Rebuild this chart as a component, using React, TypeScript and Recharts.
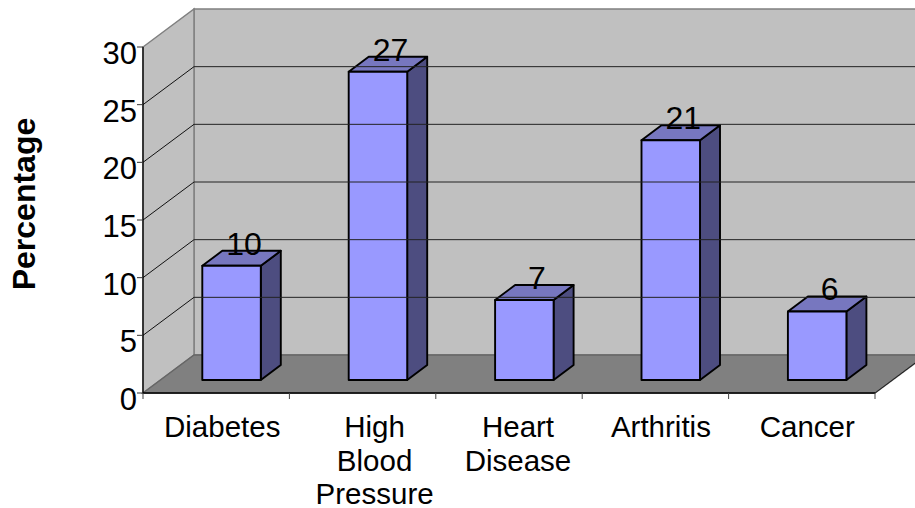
import { BarChart, Bar, XAxis, YAxis, ReferenceArea, ReferenceLine, LabelList } from 'recharts';

const categories = ['Diabetes', 'High Blood Pressure', 'Heart Disease', 'Arthritis', 'Cancer'];
const percentages = [10, 27, 7, 21, 6];
const yTicks = [0, 5, 10, 15, 20, 25, 30];
const gridValues = [5, 10, 15, 20, 25];

const data = categories.map((name, i) => ({ name, value: percentages[i] }));

const W = 915;
const H = 508;
const LEFT = 143;
const TOP = 47;
const RIGHT = 40;
const BOTTOM = 115;
const BAND = (W - LEFT - RIGHT) / categories.length;
// depth of the fake 3d box
const WALL_DX = 51;
const WALL_DY = -38;
const BAR_DX = 20;
const BAR_DY = -15;
const BAR_SHIFT = 15.3;
const BAR_LIFT = 13;
const BAR_K = 0.99;
// category labels are not quite centred on their bands in the original
const labelNudge = [6, 12, 9, 5.5, 5.5];

const FONT = '"Liberation Sans", Arial, sans-serif';

function Walls(props: any) {
  const { y, height } = props;
  const x0 = LEFT;
  const x1 = W - RIGHT;
  const yTop = y;
  const yBot = y + height;
  const pts = (a: number[][]) => a.map(p => p.join(',')).join(' ');
  return (
    <g>
      <polygon points={pts([[x0 + WALL_DX, yTop + WALL_DY], [x1 + WALL_DX, yTop + WALL_DY], [x1 + WALL_DX, yBot + WALL_DY], [x0 + WALL_DX, yBot + WALL_DY]])} fill="#c0c0c0" stroke="#808080" strokeWidth={1.5} />
      <polygon points={pts([[x0, yTop], [x0 + WALL_DX, yTop + WALL_DY], [x0 + WALL_DX, yBot + WALL_DY], [x0, yBot]])} fill="#c0c0c0" stroke="#808080" strokeWidth={1.5} />
      <polygon points={pts([[x0, yBot], [x0 + WALL_DX, yBot + WALL_DY], [x1 + WALL_DX, yBot + WALL_DY], [x1, yBot]])} fill="#808080" stroke="#666666" strokeWidth={1.5} />
      <line x1={x1} y1={yBot} x2={x1 + WALL_DX} y2={yBot + WALL_DY} stroke="#222222" />
    </g>
  );
}

function GridLine(props: any) {
  const { y1 } = props;
  const x1 = LEFT;
  const x2 = W - RIGHT;
  return (
    <g>
      <line x1={x1} y1={y1} x2={x1 + WALL_DX} y2={y1 + WALL_DY} stroke="#111111" />
      <line x1={x1 + WALL_DX} y1={y1 + WALL_DY} x2={x2 + WALL_DX} y2={y1 + WALL_DY} stroke="#222222" />
    </g>
  );
}

function Box3D(props: any) {
  const { x, y, width, height } = props;
  const left = x + BAR_SHIFT;
  const right = left + width;
  const base = y + height - BAR_LIFT;
  const top = base - height * BAR_K;
  const pts = (a: number[][]) => a.map(p => p.join(',')).join(' ');
  return (
    <g stroke="#000000" strokeWidth={1.9} strokeLinejoin="round">
      <polygon points={pts([[right, top], [right + BAR_DX, top + BAR_DY], [right + BAR_DX, base + BAR_DY], [right, base]])} fill="#4d4d80" />
      <polygon points={pts([[left, top], [left + BAR_DX, top + BAR_DY], [right + BAR_DX, top + BAR_DY], [right, top]])} fill="#7777bf" />
      <rect x={left} y={top} width={width} height={base - top} fill="#9999ff" />
    </g>
  );
}

function ValueLabel(props: any) {
  const { x, y, width, height, value } = props;
  const base = y + height - BAR_LIFT;
  const top = base - height * BAR_K;
  return (
    <text x={x + width / 2 + BAR_SHIFT + 12.5} y={top - 11} textAnchor="middle" fontSize={32} fontFamily={FONT} fill="#000000">
      {value}
    </text>
  );
}

function ValueTick(props: any) {
  const { x, y, payload } = props;
  return (
    <text x={x} y={y + 17} textAnchor="end" fontSize={31} fontFamily={FONT} fill="#000000">
      {payload.value}
    </text>
  );
}

function CategoryTick(props: any) {
  const { x, y, payload, index } = props;
  const lines = String(payload.value).split(' ');
  const labelX = x + labelNudge[index];
  return (
    <g>
      <line x1={x - BAND / 2} y1={y - 8} x2={x - BAND / 2} y2={y - 2} stroke="#444444" />
      {index === categories.length - 1 && (
        <line x1={x + BAND / 2} y1={y - 8} x2={x + BAND / 2} y2={y - 2} stroke="#444444" />
      )}
      <text textAnchor="middle" fontSize={29.5} fontFamily={FONT} fill="#000000">
        {lines.map((l, i) => (
          <tspan key={l} x={labelX} y={y + 36 + i * 33.5}>
            {l}
          </tspan>
        ))}
      </text>
    </g>
  );
}

export default function App() {
  return (
    <div style={{ position: 'absolute', left: 0, top: 0, width: W, height: H, overflow: 'hidden', background: '#ffffff' }}>
      <BarChart width={W} height={H} data={data} margin={{ top: TOP, right: RIGHT, bottom: 0, left: 0 }} barSize={58.5}>
        <ReferenceArea y1={0} y2={30} ifOverflow="visible" shape={<Walls />} />
        {gridValues.map(v => (
          <ReferenceLine key={v} y={v} ifOverflow="visible" shape={<GridLine />} />
        ))}
        <XAxis
          dataKey="name"
          height={BOTTOM}
          interval={0}
          tickLine={false}
          tick={<CategoryTick />}
          axisLine={{ stroke: '#000000', strokeWidth: 1.3 }}
        />
        <YAxis
          width={LEFT}
          domain={[0, 30]}
          ticks={yTicks}
          interval={0}
          tickSize={6}
          tickMargin={0}
          tickLine={{ stroke: '#333333' }}
          axisLine={{ stroke: '#000000', strokeWidth: 1.3 }}
          tick={<ValueTick />}
          label={{
            content: () => (
              <text transform="translate(34.5,204) rotate(-90)" textAnchor="middle" fontSize={32} fontWeight="bold" fontFamily={FONT} fill="#000000">
                Percentage
              </text>
            ),
          }}
        />
        <Bar dataKey="value" shape={<Box3D />} isAnimationActive={false}>
          <LabelList dataKey="value" content={<ValueLabel />} />
        </Bar>
      </BarChart>
    </div>
  );
}
